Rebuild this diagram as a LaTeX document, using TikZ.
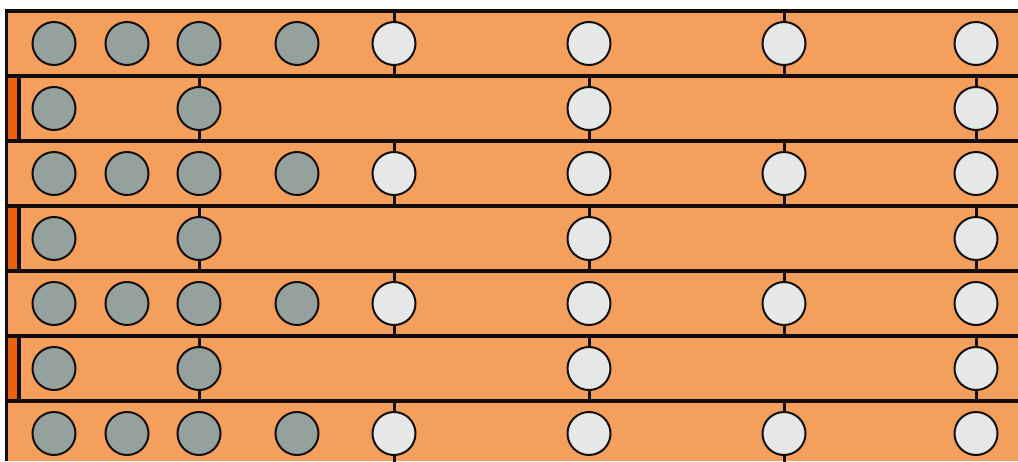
\documentclass[tikz,border=0pt]{standalone}
\usepackage{xcolor}
\usepackage{tikz}
\definecolor{barorange}{HTML}{F4A05C}
\definecolor{darkorange}{HTML}{EA6210}
\definecolor{slategray}{HTML}{95A19D}
\definecolor{paleball}{HTML}{E5E8E7}
\definecolor{edgeblack}{HTML}{140C06}

\begin{document}
\begin{tikzpicture}[x=1pt, y=-1pt,
  graydisc/.style={circle, draw=edgeblack, line width=2pt, fill=slategray, minimum size=43pt, inner sep=0pt},
  whitedisc/.style={graydisc, fill=paleball},
  rail/.style={draw=edgeblack, line width=3.4pt},
  tickline/.style={draw=edgeblack, line width=3pt}]
\useasboundingbox (0,0) rectangle (1018,461);
\clip (0,0) rectangle (1018,461);
\fill[barorange] (6.5,11) rectangle (1018,461);

% rows of discs
\foreach \r in {1,...,7} {
  \pgfmathsetmacro\ytop{11+65*(\r-1)}
  \pgfmathsetmacro\ybot{11+65*\r}
  \pgfmathsetmacro\yc{43.5+65*(\r-1)}
  \coordinate (top-\r) at (0,\ytop);
  \coordinate (bot-\r) at (0,\ybot);
  \ifodd\r
    \foreach \x in {54,127,199,297}
      \node[graydisc] (disc-\r-\x) at (\x,\yc) {};
    \foreach \x in {394,589,784,976}
      \node[whitedisc] (disc-\r-\x) at (\x,\yc) {};
    \foreach \x in {394,784} {
      \draw[tickline] (disc-\r-\x.north) -- (disc-\r-\x.north |- top-\r);
      \draw[tickline] (disc-\r-\x.south) -- (disc-\r-\x.south |- bot-\r);
    }
  \else
    \fill[darkorange] (6.5,\ytop) rectangle (19,\ybot);
    \draw[rail] (19,\ytop) -- (19,\ybot);
    \foreach \x in {54,199}
      \node[graydisc] (disc-\r-\x) at (\x,\yc) {};
    \foreach \x in {589,976}
      \node[whitedisc] (disc-\r-\x) at (\x,\yc) {};
    \foreach \x in {199,589,976} {
      \draw[tickline] (disc-\r-\x.north) -- (disc-\r-\x.north |- top-\r);
      \draw[tickline] (disc-\r-\x.south) -- (disc-\r-\x.south |- bot-\r);
    }
  \fi
}

% rails between rows
\foreach \k in {0,...,6}
  \draw[rail] (6.5,11+65*\k) -- (1018,11+65*\k);
\draw[rail] (6.5,9.3) -- (6.5,461);
\end{tikzpicture}
\end{document}
